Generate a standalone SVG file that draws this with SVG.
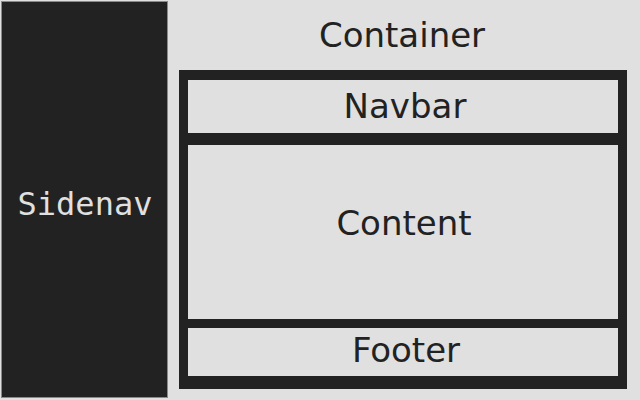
<svg xmlns="http://www.w3.org/2000/svg" width="640" height="400" viewBox="0 0 640 400">
  <style>
    .lbl { font-family: "DejaVu Sans", sans-serif; font-size: 34px; fill: #222; text-anchor: middle; }
    .mono { font-family: "DejaVu Sans Mono", monospace; font-size: 32px; fill: #e0e0e0; text-anchor: middle; }
    .box { fill: #e0e0e0; }
  </style>
  <rect x="0" y="0" width="640" height="400" fill="#e0e0e0"/>
  <g id="sidenav">
    <rect x="1.5" y="1.5" width="166" height="396" fill="#222" stroke="#8a8a8a" stroke-width="1"/>
    <text class="mono" x="85" y="215">Sidenav</text>
  </g>
  <g id="container">
    <text class="lbl" x="402" y="47">Container</text>
    <rect x="179" y="70" width="448" height="319" fill="#222"/>
  </g>
  <g id="navbar">
    <rect class="box" x="188" y="80" width="430" height="53"/>
    <text class="lbl" x="405" y="118">Navbar</text>
  </g>
  <g id="content">
    <rect class="box" x="188" y="145" width="430" height="174"/>
    <text class="lbl" x="404" y="235">Content</text>
  </g>
  <g id="footer">
    <rect class="box" x="188" y="328" width="430" height="48"/>
    <text class="lbl" x="406" y="362">Footer</text>
  </g>
  <g id="connectors"/>
</svg>
